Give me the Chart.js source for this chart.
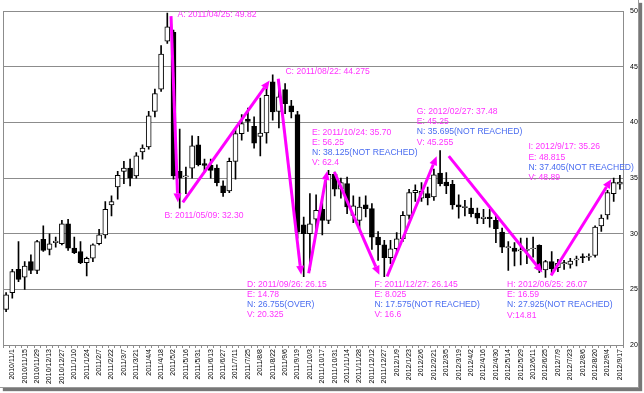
<!DOCTYPE html>
<html>
<head>
<meta charset="utf-8">
<script src="https://cdn.jsdelivr.net/npm/chart.js@4.4.0/dist/chart.umd.min.js"></script>
<style>
  body { margin: 0; background: #fff; }
  #wrap { position: absolute; left: 0; top: 0; width: 638px; height: 387px; overflow: hidden; background: #fff;
          border-right: 1px solid #999; border-bottom: 1px solid #999; box-shadow: 3px 3px 1px #777; }
  canvas { display: block; }
</style>
</head>
<body>
<div id="wrap"><canvas id="chartCandle" width="650" height="387"></canvas></div>
<script>
// semanas (lunes o primer dia habil)
const fechas = ['2010/10/25','2010/11/1','2010/11/8','2010/11/15','2010/11/22','2010/11/29','2010/12/6','2010/12/13','2010/12/20','2010/12/27',
  '2011/1/3','2011/1/10','2011/1/18','2011/1/24','2011/1/31','2011/2/7','2011/2/14','2011/2/22','2011/2/28','2011/3/7',
  '2011/3/14','2011/3/21','2011/3/28','2011/4/4','2011/4/11','2011/4/18','2011/4/25','2011/5/2','2011/5/9','2011/5/16',
  '2011/5/23','2011/5/31','2011/6/6','2011/6/13','2011/6/20','2011/6/27','2011/7/5','2011/7/11','2011/7/18','2011/7/25',
  '2011/8/1','2011/8/8','2011/8/15','2011/8/22','2011/8/29','2011/9/6','2011/9/12','2011/9/19','2011/9/26','2011/10/3',
  '2011/10/10','2011/10/17','2011/10/24','2011/10/31','2011/11/7','2011/11/14','2011/11/21','2011/11/28','2011/12/5','2011/12/12',
  '2011/12/19','2011/12/27','2012/1/3','2012/1/9','2012/1/17','2012/1/23','2012/1/30','2012/2/6','2012/2/13','2012/2/21',
  '2012/2/27','2012/3/5','2012/3/12','2012/3/19','2012/3/26','2012/4/2','2012/4/9','2012/4/16','2012/4/23','2012/4/30',
  '2012/5/7','2012/5/14','2012/5/21','2012/5/29','2012/6/4','2012/6/11','2012/6/18','2012/6/25','2012/7/2','2012/7/9',
  '2012/7/16','2012/7/23','2012/7/30','2012/8/6','2012/8/13','2012/8/20','2012/8/27','2012/9/4','2012/9/10','2012/9/17'];

const aperturas = [23.2,24.7,26.8,26.1,27.5,26.7,29.5,28.6,29.2,29.1,
  30.9,28.7,28.4,27.4,27.8,29.1,29.9,32.6,34.2,35.6,
  35.9,35.2,37.35,37.8,41.0,43.0,47.3,48.1,35.6,35.1,
  35.9,38.0,36.3,36.15,35.9,34.3,33.85,36.5,39.0,40.3,
  39.65,38.75,39.05,43.65,41.0,42.95,41.5,40.7,30.8,30.0,
  31.3,32.2,31.2,35.35,34.0,34.5,31.65,31.2,32.6,32.25,
  29.7,29.0,27.85,28.65,29.55,31.65,33.7,33.2,33.6,33.3,
  35.45,34.65,34.45,32.6,32.35,32.3,31.85,31.35,31.5,31.2,
  30.15,28.75,28.7,28.45,28.5,28.65,28.95,26.75,27.5,26.95,
  27.3,27.25,27.65,27.95,27.9,28.05,30.7,31.7,33.6,34.45];
const maximos = [24.7,26.8,29.3,27.5,28.1,29.4,30.7,30.0,29.7,31.2,
  31.3,29.7,29.3,27.9,29.1,30.4,32.9,33.4,35.6,36.5,
  36.7,37.3,38.0,41.0,43.0,46.9,49.82,48.3,39.4,36.0,
  38.8,38.75,36.7,36.7,36.2,34.75,36.8,39.5,40.7,41.3,
  40.5,42.2,43.2,44.275,43.0,43.5,42.0,41.0,31.5,33.6,
  33.5,33.3,35.7,35.55,35.0,35.1,33.4,33.3,33.4,32.7,
  30.2,29.4,29.4,30.1,32.0,34.0,34.4,34.6,34.2,35.8,
  37.48,35.5,34.8,33.5,33.0,33.2,32.3,32.2,32.2,31.6,
  30.5,29.3,29.2,29.6,29.6,29.7,29.0,27.6,28.4,27.7,
  27.6,27.8,28.0,28.2,28.2,30.7,31.7,33.9,35.0,35.26];
const minimos = [23.0,24.2,25.7,25.0,26.4,26.4,28.4,28.1,28.8,29.0,
  28.5,28.2,27.3,26.2,27.5,29.0,29.6,31.6,33.1,34.5,
  34.3,35.0,36.7,37.6,40.5,42.8,47.1,34.9,32.3,33.6,
  35.0,36.1,35.5,35.0,34.3,33.35,33.7,34.9,38.4,39.2,
  37.7,37.0,38.15,40.2,39.5,40.8,40.4,29.6,26.15,26.75,
  30.15,29.9,30.9,33.4,33.2,31.8,31.0,30.4,31.5,28.6,
  27.6,26.145,27.3,28.2,29.3,31.3,32.9,32.9,32.6,33.0,
  34.3,33.6,32.2,31.4,31.6,31.5,30.9,30.9,30.6,29.2,
  28.3,26.7,27.1,27.2,27.3,27.9,26.5,26.07,26.4,26.6,
  26.8,26.9,27.1,27.4,27.6,27.9,30.2,31.3,32.9,34.0];
const cierres = [24.5,26.6,25.9,27.1,26.7,29.3,28.5,29.1,29.35,30.9,
  28.7,28.3,27.4,27.8,29.0,29.9,32.2,32.9,35.25,35.9,
  35.0,37.0,37.7,40.6,42.6,46.15,48.6,35.2,35.0,35.2,
  37.9,36.2,36.15,35.7,34.6,33.7,36.5,39.0,39.9,40.1,
  38.15,39.05,42.45,40.95,42.3,41.7,40.95,30.15,30.0,30.9,
  32.1,31.2,35.35,34.0,34.6,32.4,32.5,32.4,32.25,29.7,
  29.0,27.85,28.65,29.55,31.65,33.7,33.9,33.8,33.25,35.3,
  34.5,34.3,32.6,32.4,32.45,31.8,31.4,31.5,31.35,30.45,
  28.8,28.85,28.4,28.55,28.6,28.7,26.75,27.5,26.85,27.35,
  27.4,27.55,27.75,27.85,28.0,30.6,31.4,33.7,34.6,34.65];

// ondas: indice de semana y precio de inicio / fin de cada flecha
const flechaIniIdx = [26.6, 28.5, 43.9, 48.8, 52.95, 61.45, 71.4, 87.9];
const flechaIniVal = [49.56, 32.82, 43.93, 26.45, 35.55, 26.16, 36.97, 26.24];
const flechaFinIdx = [27.7, 42.5, 47.6, 51.8, 60.2, 69.45, 86.5, 97.6];
const flechaFinVal = [32.82, 43.78, 26.31, 35.64, 26.31, 36.97, 26.51, 34.89];

// textos de los puntos A..I  (m = magenta, b = azul)
const notas = [
  { idx: 27.63, val: 49.71, lineas: [['A: 2011/04/25: 49.82','m']] },
  { idx: 25.53, val: 31.67, lineas: [['B: 2011/05/09: 32.30','m']] },
  { idx: 45.05, val: 44.56, lineas: [['C: 2011/08/22: 44.275','m']] },
  { idx: 38.87, val: 25.47, lineas: [['D: 2011/09/26: 26.15','m'],['E: 14.78','m'],['N: 26.755(OVER)','b'],['V: 20.325','m']] },
  { idx: 49.35, val: 39.13, lineas: [['E: 2011/10/24: 35.70','m'],['E: 56.25','m'],['N: 38.125(NOT REACHED)','b'],['V: 62.4','m']] },
  { idx: 59.40, val: 25.47, lineas: [['F: 2011/12/27: 26.145','m'],['E: 8.025','m'],['N: 17.575(NOT REACHED)','b'],['V: 16.6','m']] },
  { idx: 66.23, val: 40.97, lineas: [['G: 2012/02/27: 37.48','m'],['E: 45.25','m'],['N: 35.695(NOT REACHED)','b'],['V: 45.255','m']] },
  { idx: 80.81, val: 25.42, lineas: [['H: 2012/06/25: 26.07','m'],['E: 16.59','m'],['N: 27.925(NOT REACHED)','b'],['V:14.81','m']] },
  { idx: 84.24, val: 37.80, lineas: [['I: 2012/9/17: 35.26','m'],['E: 48.815','m'],['N: 37.405(NOT REACHED)','b'],['V: 48.89','m']] }
];

const MAGENTA = '#ff00ff';
const colorTexto = { m: '#ff33ff', b: '#4a6cf0' };

const cuerpos = aperturas.map((o, i) => [o, cierres[i]]);
const mechas = minimos.map((l, i) => [l, maximos[i]]);
const relleno = aperturas.map((o, i) => cierres[i] >= o ? '#ffffff' : '#000000');

// marco del area del grafico
const marco = {
  id: 'marco',
  beforeDatasetsDraw(chart) {
    const { ctx, chartArea: a } = chart;
    ctx.save();
    ctx.strokeStyle = '#8c8c8c';
    ctx.lineWidth = 1;
    ctx.strokeRect(Math.round(a.left) + 0.5, Math.round(a.top) + 0.5, Math.round(a.width), Math.round(a.height));
    ctx.restore();
  }
};

// flechas y textos de las ondas
const ondas = {
  id: 'ondas',
  afterDatasetsDraw(chart) {
    const { ctx, scales: { x, y } } = chart;
    ctx.save();
    ctx.strokeStyle = MAGENTA;
    ctx.fillStyle = MAGENTA;
    ctx.lineWidth = 3;
    ctx.lineCap = 'butt';
    flechaIniIdx.forEach((k, i) => {
      const x1 = x.getPixelForValue(k), y1 = y.getPixelForValue(flechaIniVal[i]);
      const x2 = x.getPixelForValue(flechaFinIdx[i]), y2 = y.getPixelForValue(flechaFinVal[i]);
      const ang = Math.atan2(y2 - y1, x2 - x1);
      const largo = 9, ancho = 4;
      const bx = x2 - largo * Math.cos(ang), by = y2 - largo * Math.sin(ang);
      ctx.beginPath();
      ctx.moveTo(x1, y1);
      ctx.lineTo(bx, by);
      ctx.stroke();
      ctx.beginPath();
      ctx.moveTo(x2, y2);
      ctx.lineTo(bx + ancho * Math.sin(ang), by - ancho * Math.cos(ang));
      ctx.lineTo(bx - ancho * Math.sin(ang), by + ancho * Math.cos(ang));
      ctx.closePath();
      ctx.fill();
    });
    ctx.font = '8.6px "Liberation Sans", Arial, sans-serif';
    ctx.textBaseline = 'middle';
    ctx.textAlign = 'left';
    notas.forEach(n => {
      const px = x.getPixelForValue(n.idx), py = y.getPixelForValue(n.val);
      n.lineas.forEach((l, j) => {
        ctx.fillStyle = colorTexto[l[1]];
        ctx.fillText(l[0], px, py + j * 10.2);
      });
    });
    ctx.restore();
  }
};

const ctxCandle = document.getElementById('chartCandle').getContext('2d');

new Chart(ctxCandle, {
  type: 'bar',
  data: {
    labels: fechas,
    datasets: [{
      label: 'cuerpo',
      data: cuerpos,
      backgroundColor: relleno,
      borderColor: '#000000',
      borderWidth: 1,
      borderSkipped: false,
      barThickness: 5,
      grouped: false,
      order: 0
    }, {
      label: 'mecha',
      data: mechas,
      backgroundColor: '#000000',
      borderWidth: 0,
      barThickness: 1,
      grouped: false,
      order: 1
    }]
  },
  options: {
    responsive: false,
    animation: false,
    events: [],
    layout: { padding: { left: 3, top: 6, right: 0, bottom: 0 } },
    plugins: {
      legend: { display: false },
      tooltip: { enabled: false },
      title: { display: false }
    },
    scales: {
      x: {
        offset: true,
        afterFit: s => { s.height = 42; },
        grid: { display: true, drawOnChartArea: false, drawTicks: true, tickLength: 3, color: '#8c8c8c' },
        border: { display: false },
        ticks: {
          autoSkip: false,
          minRotation: 90,
          maxRotation: 90,
          padding: 1,
          color: '#000',
          font: { size: 7, family: '"Liberation Sans", Arial, sans-serif' },
          callback: function (v, i) { return i % 2 === 1 ? fechas[i] : ''; }
        }
      },
      y: {
        position: 'right',
        min: 20,
        max: 50,
        afterFit: s => { s.width = 27; },
        grid: { color: '#8c8c8c', drawTicks: false },
        border: { display: false },
        ticks: {
          stepSize: 5,
          padding: 7,
          color: '#000',
          font: { size: 7, family: '"Liberation Sans", Arial, sans-serif' }
        }
      }
    }
  },
  plugins: [marco, ondas]
});
</script>
</body>
</html>
